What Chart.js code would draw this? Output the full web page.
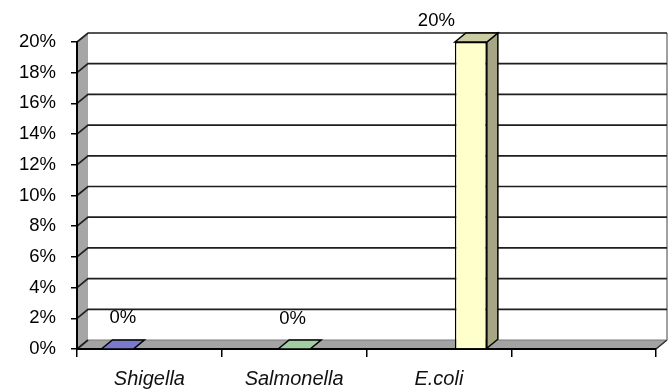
<!DOCTYPE html>
<html>
<head>
<meta charset="utf-8">
<script src="https://cdn.jsdelivr.net/npm/chart.js@4"></script>
<style>
  html, body { margin: 0; padding: 0; background: #ffffff; }
  #c { display: block; }
</style>
</head>
<body>
<canvas id="c" width="672" height="392"></canvas>
<script>
// Category slots along the floor (the last slot is left empty)
const categories = ['Shigella', 'Salmonella', 'E.coli', ''];
// One series per organism
const organisms = ['Shigella', 'Salmonella', 'E.coli'];
// Share of positive samples, in percent
const positiveRates = [0, 0, 20];
// Value axis
const yMax = 20;
const yStep = 2;

// Styling
const seriesColors = ['#9999ff', '#ccffcc', '#ffffcc'];
const labelShift = [{ x: 0, y: 0 }, { x: -7, y: 1 }, { x: -40, y: 10 }];
const DEPTH_X = 11;
const DEPTH_Y = 9;
const FONT = '"Liberation Sans", Arial, sans-serif';

function shade(hex, f) {
  const n = parseInt(hex.slice(1), 16);
  const r = Math.round(((n >> 16) & 255) * f);
  const g = Math.round(((n >> 8) & 255) * f);
  const b = Math.round((n & 255) * f);
  return `rgb(${r},${g},${b})`;
}

function poly(ctx, pts, fill, stroke, lw) {
  ctx.beginPath();
  ctx.moveTo(pts[0][0], pts[0][1]);
  for (let i = 1; i < pts.length; i++) ctx.lineTo(pts[i][0], pts[i][1]);
  ctx.closePath();
  if (fill) { ctx.fillStyle = fill; ctx.fill(); }
  if (stroke) { ctx.strokeStyle = stroke; ctx.lineWidth = lw || 1; ctx.stroke(); }
}

// Back wall, side wall, floor and the wall grid lines
const wallsPlugin = {
  id: 'walls',
  beforeDraw(chart) {
    const { ctx, chartArea: a } = chart;
    const yScale = chart.scales.y;
    const dx = DEPTH_X, dy = DEPTH_Y;
    ctx.save();
    // back wall
    ctx.fillStyle = '#ffffff';
    ctx.fillRect(a.left + dx, a.top - dy, a.right - a.left, a.bottom - a.top);
    // left side wall
    poly(ctx, [[a.left, a.bottom], [a.left, a.top], [a.left + dx, a.top - dy], [a.left + dx, a.bottom - dy]], '#a6a6a6');
    // floor
    poly(ctx, [[a.left, a.bottom], [a.right, a.bottom], [a.right + dx, a.bottom - dy], [a.left + dx, a.bottom - dy]], '#a3a3a3', '#7a7a7a', 1);
    // right edge of the back wall
    ctx.strokeStyle = '#a0a0a0';
    ctx.lineWidth = 2;
    ctx.beginPath();
    ctx.moveTo(a.right + dx, a.top - dy);
    ctx.lineTo(a.right + dx, a.bottom - dy);
    ctx.stroke();
    // grid lines: across the side wall, then along the back wall
    ctx.strokeStyle = '#1e1e1e';
    ctx.lineWidth = 1.7;
    yScale.ticks.forEach(t => {
      const y = yScale.getPixelForValue(t.value);
      ctx.beginPath();
      ctx.moveTo(a.left, y);
      ctx.lineTo(a.left + dx, y - dy);
      if (t.value !== 0) ctx.lineTo(a.right + dx, y - dy);
      ctx.stroke();
    });
    // floor right slant
    ctx.strokeStyle = '#333333';
    ctx.lineWidth = 1.5;
    ctx.beginPath();
    ctx.moveTo(a.right, a.bottom);
    ctx.lineTo(a.right + dx, a.bottom - dy);
    ctx.stroke();
    ctx.restore();
  }
};

// Top and side faces of each bar, plus the value labels
const barDepthPlugin = {
  id: 'barDepth',
  afterDatasetsDraw(chart) {
    const { ctx } = chart;
    const dx = DEPTH_X, dy = DEPTH_Y;
    ctx.save();
    chart.data.datasets.forEach((ds, di) => {
      const meta = chart.getDatasetMeta(di);
      meta.data.forEach((el, i) => {
        const v = ds.data[i];
        if (v === null || v === undefined) return;
        const { x, y, base, width } = el.getProps(['x', 'y', 'base', 'width'], true);
        const l = x - width / 2, r = x + width / 2;
        const col = seriesColors[di];
        // side face
        if (base - y > 0.5) {
          poly(ctx, [[r, y], [r + dx, y - dy], [r + dx, base - dy], [r, base]], shade(col, 0.65), '#000', 1.5);
        }
        // top face
        poly(ctx, [[l, y], [l + dx, y - dy], [r + dx, y - dy], [r, y]], shade(col, 0.8), '#000', 1.5);
        // value label
        const sh = labelShift[di];
        ctx.fillStyle = '#000';
        ctx.font = `18.5px ${FONT}`;
        ctx.textAlign = 'center';
        ctx.textBaseline = 'middle';
        ctx.fillText(v + '%', x + dx / 2 + sh.x, y - 31 + sh.y);
      });
    });
    ctx.restore();
  }
};

const datasets = organisms.map((name, si) => ({
  label: name,
  data: categories.map((_, ci) => (ci === si ? positiveRates[si] : null)),
  backgroundColor: seriesColors[si],
  borderColor: '#000000',
  borderWidth: 1.5,
  categoryPercentage: 0.663,
  barPercentage: 1.0
}));

new Chart(document.getElementById('c'), {
  type: 'bar',
  data: { labels: categories, datasets },
  plugins: [wallsPlugin, barDepthPlugin],
  options: {
    responsive: false,
    animation: false,
    devicePixelRatio: 1,
    layout: { padding: { top: 42, right: 16, bottom: 0, left: 0 } },
    plugins: { legend: { display: false }, tooltip: { enabled: false } },
    scales: {
      x: {
        grid: { offset: true, drawOnChartArea: false, drawTicks: true, tickLength: 8, color: '#000', lineWidth: 1.5 },
        border: { display: true, color: '#000', width: 2 },
        ticks: { color: '#111', font: { family: FONT, size: 20, style: 'italic' }, padding: 10, maxRotation: 0, autoSkip: false },
        afterFit(s) { s.height = 43; }
      },
      y: {
        min: 0,
        max: yMax,
        grid: { drawOnChartArea: false, drawTicks: true, tickLength: 6, color: '#000', lineWidth: 1.5 },
        border: { display: true, color: '#000', width: 2 },
        ticks: { stepSize: yStep, callback: v => v + '%', color: '#000', font: { family: FONT, size: 18.5 }, padding: 15 },
        afterFit(s) { s.width = 77; }
      }
    }
  }
});
</script>
</body>
</html>
